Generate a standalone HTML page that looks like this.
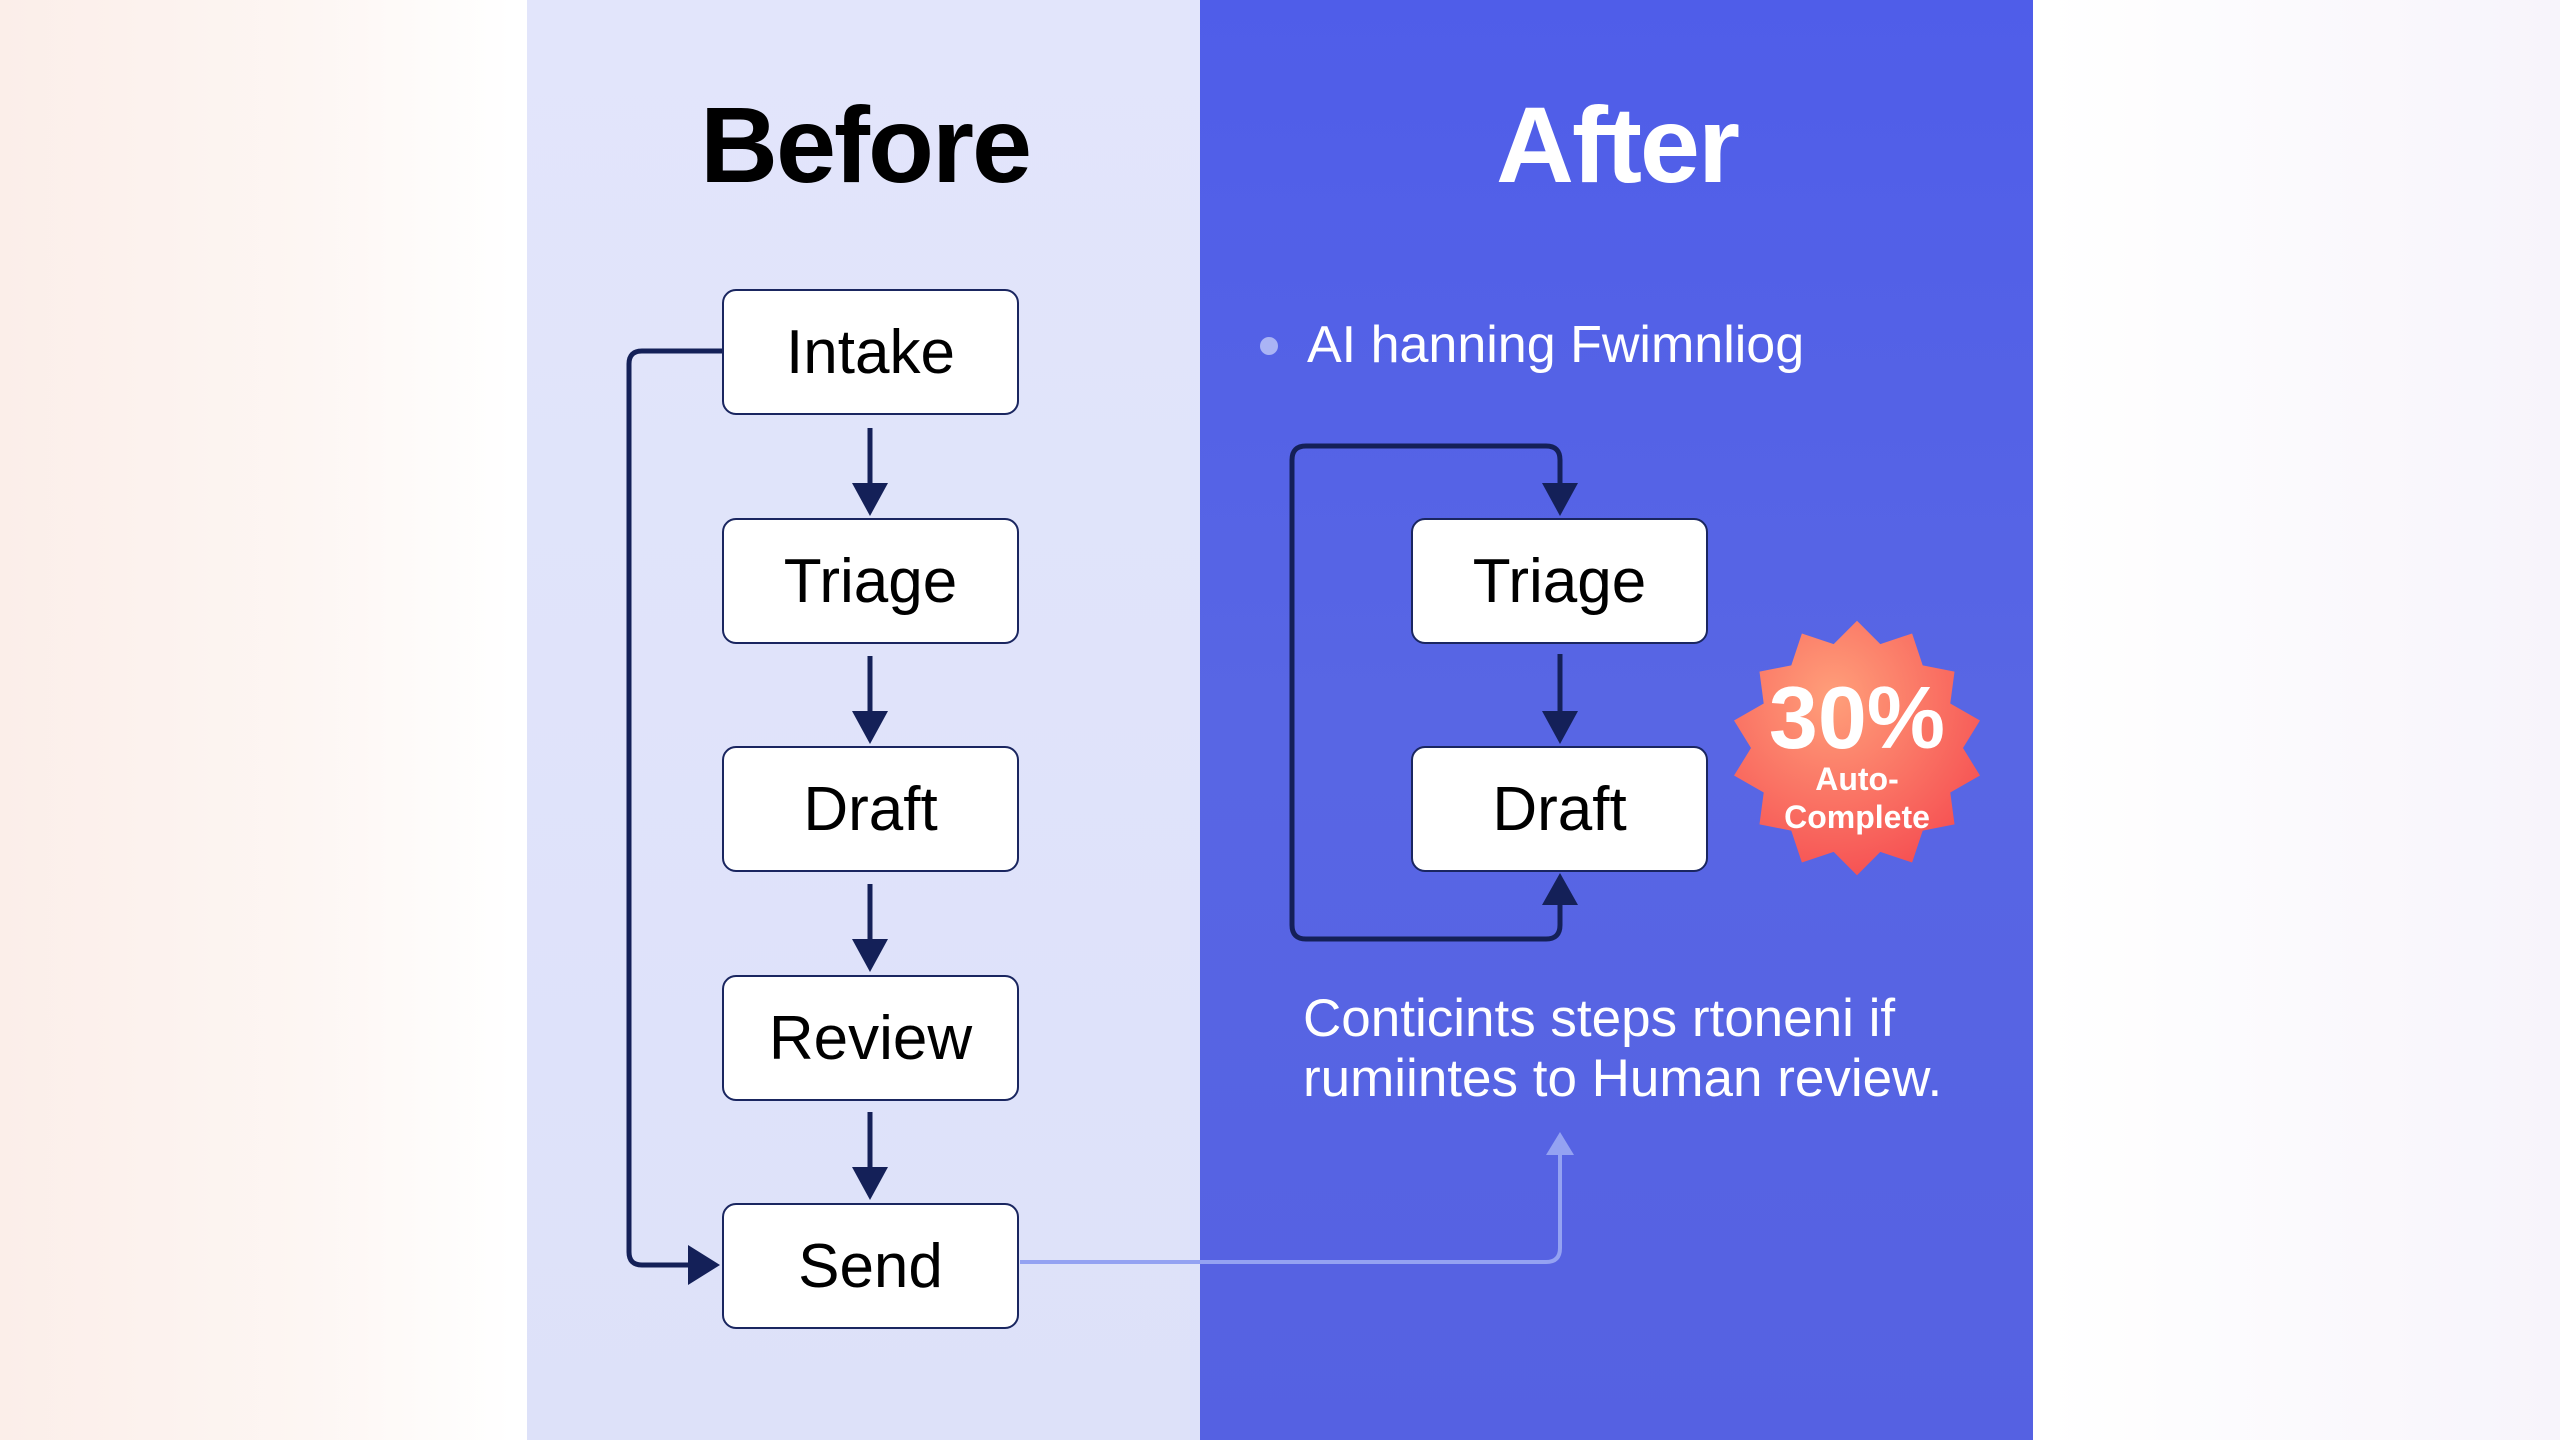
<!DOCTYPE html>
<html><head><meta charset="utf-8"><style>
html,body{margin:0;padding:0}
body{width:2560px;height:1440px;position:relative;overflow:hidden;font-family:"Liberation Sans",sans-serif;
background:linear-gradient(90deg,#fbeee9 0%,#fdf6f3 12%,#ffffff 20%,#ffffff 80%,#f7f4fb 100%);}
.lp{position:absolute;left:527px;top:0;width:673px;height:1440px;background:linear-gradient(180deg,#e2e5fb,#dde1f9);}
.rp{position:absolute;left:1200px;top:0;width:833px;height:1440px;background:linear-gradient(180deg,#4f5de9 0%,#5866e4 50%,#5561e2 100%);}
.t{position:absolute;font-weight:bold;font-size:108px;text-align:center;width:700px;letter-spacing:-2px}
.box{position:absolute;width:293px;height:122px;background:#fff;border:2px solid #1a2660;border-radius:14px;
display:flex;align-items:center;justify-content:center;font-size:62px;color:#000}
.txt{position:absolute;color:#fff;font-size:53px;white-space:nowrap}
</style></head><body>
<div class="lp"></div><div class="rp"></div>
<div class="t" style="left:515px;top:82px;color:#000">Before</div>
<div class="t" style="left:1267px;top:82px;color:#fff">After</div>
<svg width="2560" height="1440" style="position:absolute;left:0;top:0">
<g stroke="#142058" stroke-width="5" fill="none">
<path d="M870,428V505M870,656V733M870,884V961M870,1112V1190"/>
<path d="M722,351H642Q629,351 629,364V1252Q629,1265 642,1265H700"/>
<path d="M1560,654V734"/>
<path d="M1560,505V460Q1560,446 1546,446H1306Q1292,446 1292,460V925Q1292,939 1306,939H1546Q1560,939 1560,925V895"/>
</g>
<g fill="#142058">
<path d="M852,483L888,483L870,516z"/><path d="M852,711L888,711L870,744z"/><path d="M852,939L888,939L870,972z"/><path d="M852,1167L888,1167L870,1200z"/>
<path d="M688,1245L688,1285L720,1265z"/>
<path d="M1542,483L1578,483L1560,516z"/><path d="M1542,711L1578,711L1560,744z"/>
<path d="M1542,905L1578,905L1560,873z"/>
</g>
<path d="M1020,1262H1546Q1560,1262 1560,1248V1150" stroke="#94a2f2" stroke-width="4" fill="none"/>
<path d="M1546,1155L1574,1155L1560,1132z" fill="#94a2f2"/>
</svg>
<div class="box" style="left:722px;top:289px">Intake</div>
<div class="box" style="left:722px;top:518px">Triage</div>
<div class="box" style="left:722px;top:746px">Draft</div>
<div class="box" style="left:722px;top:975px">Review</div>
<div class="box" style="left:722px;top:1203px">Send</div>
<div class="box" style="left:1411px;top:518px">Triage</div>
<div class="box" style="left:1411px;top:746px">Draft</div>
<div style="position:absolute;left:1260px;top:337px;width:18px;height:18px;border-radius:50%;background:#aab4f5"></div>
<div class="txt" style="left:1307px;top:315px;font-size:52px">AI hanning Fwimnliog</div>
<div class="txt" style="left:1303px;top:988px">Conticints steps rtoneni if</div>
<div class="txt" style="left:1303px;top:1048px">rumiintes to Human review.</div>
<svg width="280" height="280" style="position:absolute;left:1717px;top:608px">
<defs><radialGradient id="g2" cx="0.4" cy="0.3" r="0.8"><stop offset="0" stop-color="#ff9f7a"/><stop offset="1" stop-color="#f5494f"/></radialGradient></defs>
<polygon fill="url(#g2)" transform="translate(140,140) scale(1.06) translate(-140,-130)" points="140,10 162,32 192,22 202,52 232,58 228,88 256,104 240,130 256,156 228,172 232,202 202,208 192,238 162,228 140,250 118,228 88,238 78,208 48,202 52,172 24,156 40,130 24,104 52,88 48,58 78,52 88,22 118,32"/>
<text x="140" y="140" text-anchor="middle" font-family="Liberation Sans" font-weight="bold" font-size="88" fill="#fff">30%</text>
<text x="140" y="182" text-anchor="middle" font-family="Liberation Sans" font-weight="bold" font-size="32" fill="#fff">Auto-</text>
<text x="140" y="220" text-anchor="middle" font-family="Liberation Sans" font-weight="bold" font-size="32" fill="#fff">Complete</text>
</svg>
</body></html>
